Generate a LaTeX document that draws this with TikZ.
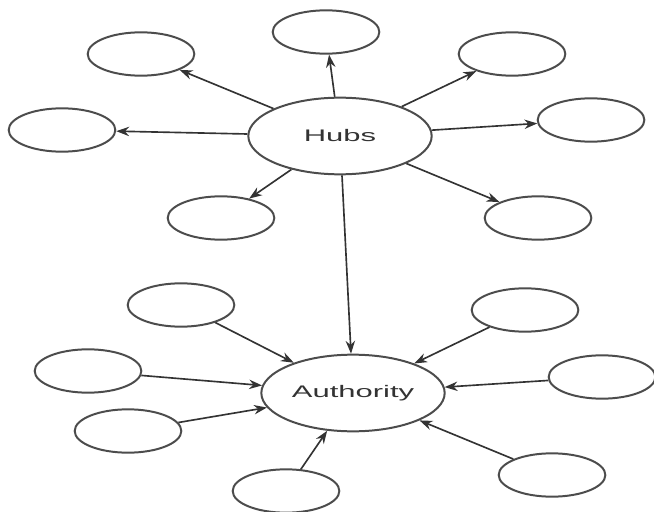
\documentclass[tikz,border=0pt]{standalone}
\usepackage{fontspec}
\newfontfamily\diagfont[FakeStretch=1.85]{Liberation Sans}
\usetikzlibrary{shapes.geometric,arrows.meta}

\tikzset{
	leaf/.style={ellipse, draw=black!70, line width=1.7pt, minimum width=3.2cm, minimum height=1.3cm, inner sep=0pt},
	big/.style={ellipse, draw=black!70, line width=1.7pt, minimum width=5.5cm, minimum height=2.3cm, inner sep=0pt,
		font=\diagfont\fontsize{14.3pt}{17pt}\selectfont, text=black!80},
	link/.style={draw=black!80, line width=1.4pt, -{Stealth[length=11pt, width=8pt]}}
}

\begin{document}
\begin{tikzpicture}
	\begin{scope}[x=0.03cm, y=-0.03cm]
		\useasboundingbox (0, 0) rectangle (654, 511);

		\node[big] (hubs) at (340, 136) {Hubs};
		\node[big] (auth) at (353, 393) {Authority};

		\node[leaf] (h1) at (141, 54) {};
		\node[leaf] (h2) at (326, 32) {};
		\node[leaf] (h3) at (512, 54) {};
		\node[leaf] (h4) at (62, 130) {};
		\node[leaf] (h5) at (591, 120) {};
		\node[leaf] (h6) at (221, 218) {};
		\node[leaf] (h7) at (538, 218) {};

		\node[leaf] (a1) at (181, 305) {};
		\node[leaf] (a2) at (525, 310) {};
		\node[leaf] (a3) at (88, 371) {};
		\node[leaf] (a4) at (602, 377) {};
		\node[leaf] (a5) at (128, 431) {};
		\node[leaf] (a6) at (552, 475) {};
		\node[leaf] (a7) at (286, 491) {};

		% out of the hubs
		\draw[link] (hubs) -- (h1);
		\draw[link] (hubs) -- (h2);
		\draw[link] (hubs) -- (h3);
		\draw[link] (hubs) -- (h4);
		\draw[link] (hubs) -- (h5);
		\draw[link] (hubs) -- (h6);
		\draw[link] (hubs) -- (h7);
		\draw[link] (hubs) -- (auth);

		% into the authority
		\draw[link] (a1) -- (auth);
		\draw[link] (a2) -- (auth);
		\draw[link] (a3) -- (auth);
		\draw[link] (a4) -- (auth);
		\draw[link] (a5) -- (auth);
		\draw[link] (a6) -- (auth);
		\draw[link] (a7) -- (auth);
	\end{scope}
\end{tikzpicture}
\end{document}
